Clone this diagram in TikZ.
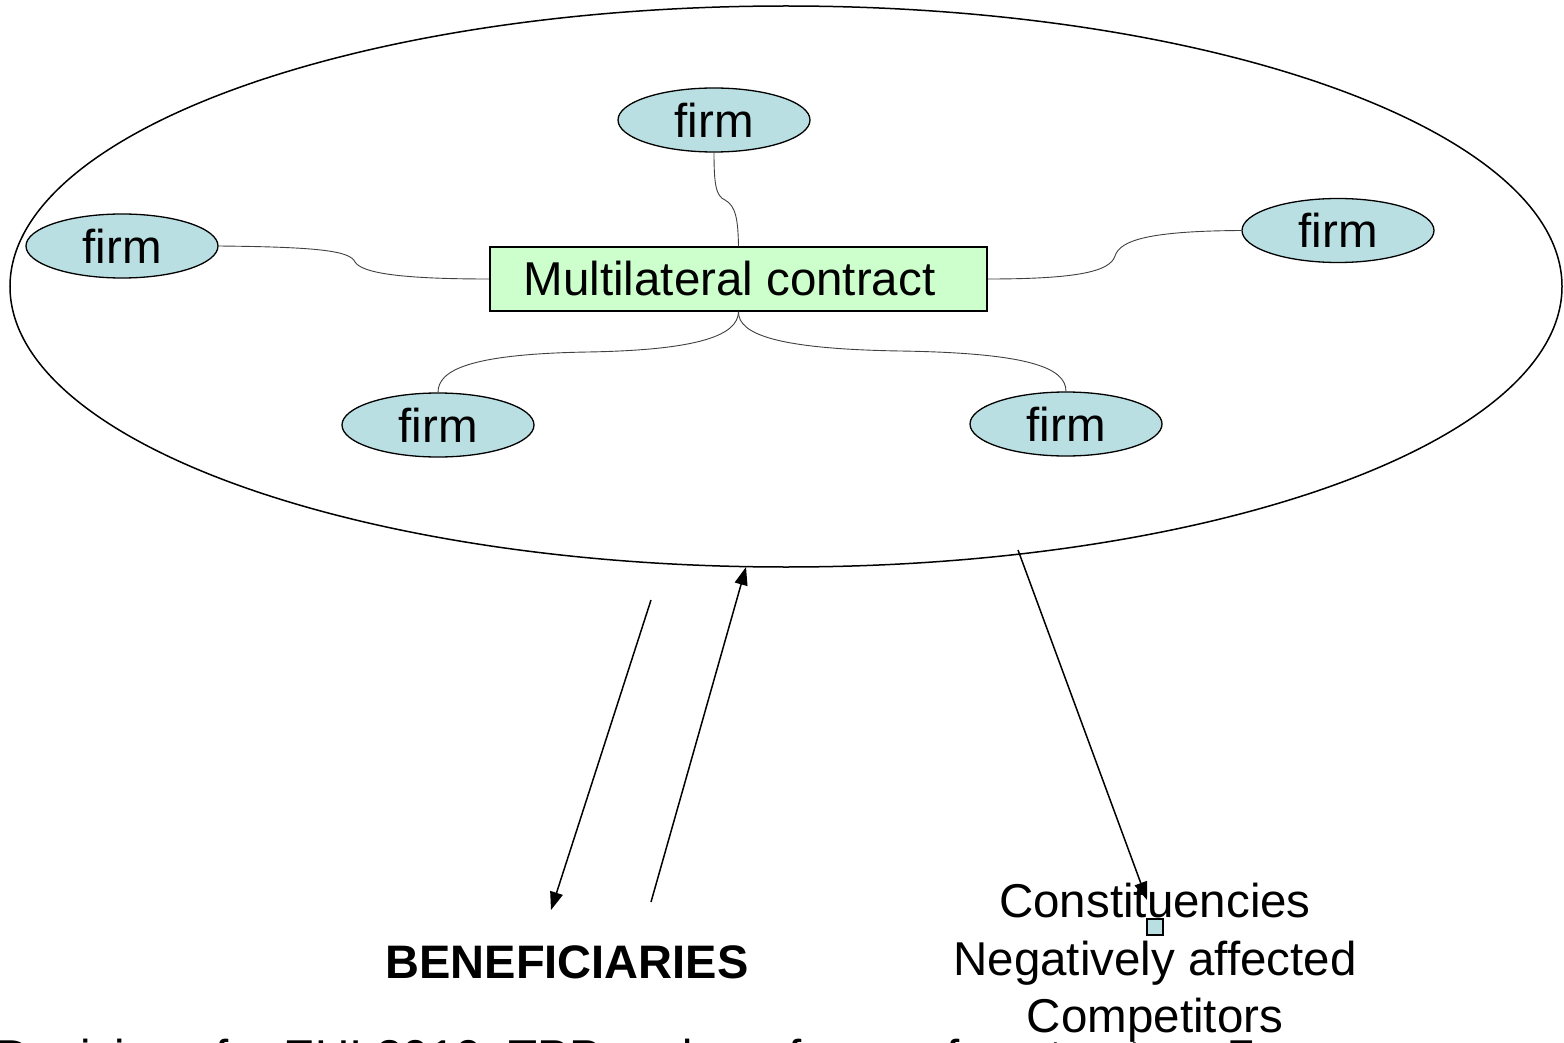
\documentclass[tikz,border=0pt]{standalone}
\usepackage{fontspec}
\setmainfont{Liberation Sans}
\usetikzlibrary{arrows.meta,shapes.geometric}
\definecolor{firmblue}{RGB}{185,223,227}
\definecolor{mcgreen}{RGB}{204,255,204}
\tikzset{
  big/.style={font=\fontsize{47.5pt}{57.5pt}\selectfont},
  firmnode/.style={ellipse, draw, line width=1.3pt, fill=firmblue, minimum width=192pt, minimum height=64pt, inner sep=0pt, big},
  outerell/.style={ellipse, draw, line width=1.5pt, minimum width=1552pt, minimum height=561pt, inner sep=0pt},
  mcbox/.style={rectangle, draw, line width=1.5pt, fill=mcgreen, minimum width=497pt, minimum height=64pt, inner sep=0pt, big},
  conn/.style={draw=black!75, line width=0.9pt},
  arr/.style={draw, line width=1.5pt, -{Triangle[length=18pt,width=13pt]}},
  plain/.style={inner sep=0pt, big}
}
\begin{document}
\begin{tikzpicture}[x=1pt,y=-1pt]
\useasboundingbox (0,0) rectangle (1564,1043);
\clip (0,0) rectangle (1564,1043);
\fill[white] (0,0) rectangle (1564,1043);
% outer ellipse
\node[outerell] (outer) at (786,286.5) {};
% contract box
\node[mcbox] (mc) at (738.5,279) {\hspace*{-18pt}Multilateral contract};
% firms
\node[firmnode] (ftop) at (714,120) {firm};
\node[firmnode] (fl) at (122,246) {firm};
\node[firmnode] (fr) at (1338,230.5) {firm};
\node[firmnode] (fbl) at (438,425) {firm};
\node[firmnode] (fbr) at (1066,424) {firm};
% connectors
\draw[conn] (ftop.south) .. controls (714,185) and (716,196) .. (725,200) .. controls (736,206) and (738,220) .. (mc.north);
\draw[conn] (fl.east) .. controls (320,247) and (350,251) .. (355,262) .. controls (362,273) and (400,279) .. (mc.west);
\draw[conn] (mc.east) .. controls (1080,279) and (1110,271) .. (1115,256) .. controls (1120,240) and (1150,231) .. (fr.west);
\draw[conn] (mc.south) .. controls (738,335) and (700,350) .. (588,352) .. controls (470,354) and (438,370) .. (fbl.north);
\draw[conn] (mc.south) .. controls (738,335) and (780,349) .. (900,351) .. controls (1030,353) and (1066,368) .. (fbr.north);
% arrows
\coordinate (a1s) at (651,600);
\coordinate (a1e) at (551,910);
\coordinate (a2s) at (651,902);
\coordinate (a2e) at (746,567);
\coordinate (a3s) at (1018,550);
\coordinate (a3e) at (1147,900);
\draw[arr] (a1s) -- (a1e);
\draw[arr] (a2s) -- (a2e);
\draw[arr] (a3s) -- (a3e);
% labels
\node[plain, font=\fontsize{47pt}{57.5pt}\selectfont\bfseries] (ben) at (567,962) {BENEFICIARIES};
\node[plain, align=center] (cons) at (1155,963) {Constituencies\\Negatively affected\\Competitors};
\node[draw, line width=1.3pt, fill=firmblue, minimum size=16pt, inner sep=0pt] (sq) at (1155,927) {};
% cut-off footer
\node[plain, anchor=base west] (foot) at (-4,1073) {Decisions for EUI 2010, TPP and our forms of contracts};
\node[plain, anchor=base west] (pg) at (1228,1073) {7};
\end{tikzpicture}
\end{document}
